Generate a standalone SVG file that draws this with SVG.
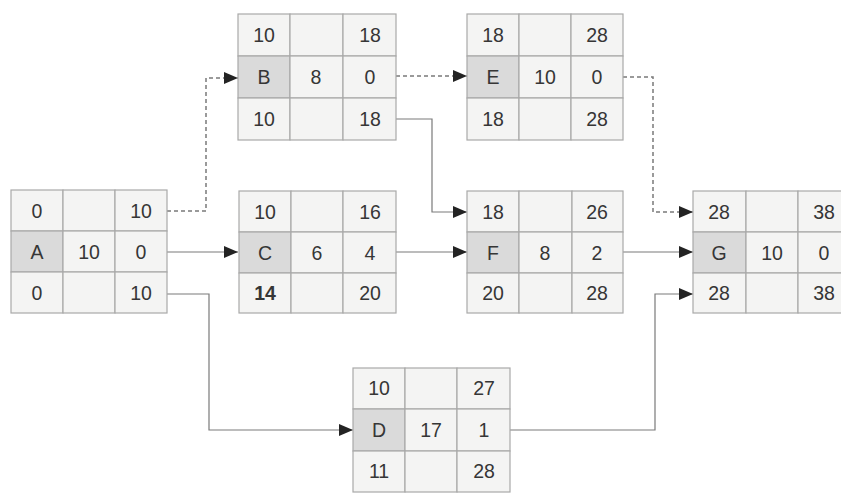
<svg xmlns="http://www.w3.org/2000/svg" width="841" height="500" viewBox="0 0 841 500">
  <style>
    .cell { fill: #f4f4f3; stroke: #a9a9a9; stroke-width: 1.2; }
    .key { fill: #dadada; stroke: #a9a9a9; stroke-width: 1.2; }
    .t { font-family: "Liberation Sans", Arial, sans-serif; font-size: 19.5px; fill: #363636; text-anchor: middle; }
    .b { font-weight: bold; }
    .solid { fill: none; stroke: #7a7a7a; stroke-width: 1.2; }
    .dash { fill: none; stroke: #7a7a7a; stroke-width: 1.5; stroke-dasharray: 4 3; }
  </style>
  <defs>
    <marker id="arrow" markerUnits="userSpaceOnUse" markerWidth="16" markerHeight="14" refX="14" refY="7" orient="auto">
      <path d="M0,1 L14,7 L0,13 z" fill="#232323"/>
    </marker>
  </defs>
  <rect width="841" height="500" fill="#ffffff"/>

  <!-- connectors between activities -->
  <g id="connectors">
    <path class="dash" d="M167,211 H206 V78 H238" marker-end="url(#arrow)"/>
    <path class="solid" d="M167,252 H238" marker-end="url(#arrow)"/>
    <path class="solid" d="M167,294 H209 V430 H353" marker-end="url(#arrow)"/>
    <path class="dash" d="M396,76 H467" marker-end="url(#arrow)"/>
    <path class="solid" d="M396,119 H432 V212 H467" marker-end="url(#arrow)"/>
    <path class="solid" d="M396,252 H467" marker-end="url(#arrow)"/>
    <path class="dash" d="M623,77 H653 V212 H693" marker-end="url(#arrow)"/>
    <path class="solid" d="M623,252 H693" marker-end="url(#arrow)"/>
    <path class="solid" d="M510,430 H655 V294 H693" marker-end="url(#arrow)"/>
  </g>

  <!-- activity A -->
  <g id="node-A">
    <rect class="cell" x="11" y="190" width="52" height="41"/>
    <rect class="cell" x="63" y="190" width="52" height="41"/>
    <rect class="cell" x="115" y="190" width="52" height="41"/>
    <rect class="key" x="11" y="231" width="52" height="41"/>
    <rect class="cell" x="63" y="231" width="52" height="41"/>
    <rect class="cell" x="115" y="231" width="52" height="41"/>
    <rect class="cell" x="11" y="272" width="52" height="41"/>
    <rect class="cell" x="63" y="272" width="52" height="41"/>
    <rect class="cell" x="115" y="272" width="52" height="41"/>
    <text class="t" x="37" y="218">0</text>
    <text class="t" x="141" y="218">10</text>
    <text class="t" x="37" y="259">A</text>
    <text class="t" x="89" y="259">10</text>
    <text class="t" x="141" y="259">0</text>
    <text class="t" x="37" y="300">0</text>
    <text class="t" x="141" y="300">10</text>
  </g>

  <!-- activity B -->
  <g id="node-B">
    <rect class="cell" x="238" y="14" width="52" height="42"/>
    <rect class="cell" x="290" y="14" width="53" height="42"/>
    <rect class="cell" x="343" y="14" width="53" height="42"/>
    <rect class="key" x="238" y="56" width="52" height="42"/>
    <rect class="cell" x="290" y="56" width="53" height="42"/>
    <rect class="cell" x="343" y="56" width="53" height="42"/>
    <rect class="cell" x="238" y="98" width="52" height="42"/>
    <rect class="cell" x="290" y="98" width="53" height="42"/>
    <rect class="cell" x="343" y="98" width="53" height="42"/>
    <text class="t" x="264" y="42">10</text>
    <text class="t" x="370" y="42">18</text>
    <text class="t" x="264" y="84">B</text>
    <text class="t" x="316" y="84">8</text>
    <text class="t" x="370" y="84">0</text>
    <text class="t" x="264" y="126">10</text>
    <text class="t" x="370" y="126">18</text>
  </g>

  <!-- activity E -->
  <g id="node-E">
    <rect class="cell" x="467" y="14" width="52" height="42"/>
    <rect class="cell" x="519" y="14" width="52" height="42"/>
    <rect class="cell" x="571" y="14" width="52" height="42"/>
    <rect class="key" x="467" y="56" width="52" height="42"/>
    <rect class="cell" x="519" y="56" width="52" height="42"/>
    <rect class="cell" x="571" y="56" width="52" height="42"/>
    <rect class="cell" x="467" y="98" width="52" height="42"/>
    <rect class="cell" x="519" y="98" width="52" height="42"/>
    <rect class="cell" x="571" y="98" width="52" height="42"/>
    <text class="t" x="493" y="42">18</text>
    <text class="t" x="597" y="42">28</text>
    <text class="t" x="493" y="84">E</text>
    <text class="t" x="545" y="84">10</text>
    <text class="t" x="597" y="84">0</text>
    <text class="t" x="493" y="126">18</text>
    <text class="t" x="597" y="126">28</text>
  </g>

  <!-- activity C -->
  <g id="node-C">
    <rect class="cell" x="239" y="191" width="52" height="41"/>
    <rect class="cell" x="291" y="191" width="52" height="41"/>
    <rect class="cell" x="343" y="191" width="53" height="41"/>
    <rect class="key" x="239" y="232" width="52" height="41"/>
    <rect class="cell" x="291" y="232" width="52" height="41"/>
    <rect class="cell" x="343" y="232" width="53" height="41"/>
    <rect class="cell" x="239" y="273" width="52" height="40"/>
    <rect class="cell" x="291" y="273" width="52" height="40"/>
    <rect class="cell" x="343" y="273" width="53" height="40"/>
    <text class="t" x="265" y="219">10</text>
    <text class="t" x="370" y="219">16</text>
    <text class="t" x="265" y="260">C</text>
    <text class="t" x="317" y="260">6</text>
    <text class="t" x="370" y="260">4</text>
    <text class="t b" x="265" y="300">14</text>
    <text class="t" x="370" y="300">20</text>
  </g>

  <!-- activity F -->
  <g id="node-F">
    <rect class="cell" x="467" y="191" width="52" height="41"/>
    <rect class="cell" x="519" y="191" width="53" height="41"/>
    <rect class="cell" x="572" y="191" width="51" height="41"/>
    <rect class="key" x="467" y="232" width="52" height="41"/>
    <rect class="cell" x="519" y="232" width="53" height="41"/>
    <rect class="cell" x="572" y="232" width="51" height="41"/>
    <rect class="cell" x="467" y="273" width="52" height="40"/>
    <rect class="cell" x="519" y="273" width="53" height="40"/>
    <rect class="cell" x="572" y="273" width="51" height="40"/>
    <text class="t" x="493" y="219">18</text>
    <text class="t" x="597" y="219">26</text>
    <text class="t" x="493" y="260">F</text>
    <text class="t" x="545" y="260">8</text>
    <text class="t" x="597" y="260">2</text>
    <text class="t" x="493" y="300">20</text>
    <text class="t" x="597" y="300">28</text>
  </g>

  <!-- activity G -->
  <g id="node-G">
    <rect class="cell" x="693" y="191" width="53" height="41"/>
    <rect class="cell" x="746" y="191" width="52" height="41"/>
    <rect class="cell" x="798" y="191" width="52" height="41"/>
    <rect class="key" x="693" y="232" width="53" height="41"/>
    <rect class="cell" x="746" y="232" width="52" height="41"/>
    <rect class="cell" x="798" y="232" width="52" height="41"/>
    <rect class="cell" x="693" y="273" width="53" height="40"/>
    <rect class="cell" x="746" y="273" width="52" height="40"/>
    <rect class="cell" x="798" y="273" width="52" height="40"/>
    <text class="t" x="719" y="219">28</text>
    <text class="t" x="824" y="219">38</text>
    <text class="t" x="719" y="260">G</text>
    <text class="t" x="772" y="260">10</text>
    <text class="t" x="824" y="260">0</text>
    <text class="t" x="719" y="300">28</text>
    <text class="t" x="824" y="300">38</text>
  </g>

  <!-- activity D -->
  <g id="node-D">
    <rect class="cell" x="353" y="368" width="52" height="41"/>
    <rect class="cell" x="405" y="368" width="52" height="41"/>
    <rect class="cell" x="457" y="368" width="53" height="41"/>
    <rect class="key" x="353" y="409" width="52" height="42"/>
    <rect class="cell" x="405" y="409" width="52" height="42"/>
    <rect class="cell" x="457" y="409" width="53" height="42"/>
    <rect class="cell" x="353" y="451" width="52" height="41"/>
    <rect class="cell" x="405" y="451" width="52" height="41"/>
    <rect class="cell" x="457" y="451" width="53" height="41"/>
    <text class="t" x="379" y="395">10</text>
    <text class="t" x="484" y="395">27</text>
    <text class="t" x="379" y="437">D</text>
    <text class="t" x="431" y="437">17</text>
    <text class="t" x="484" y="437">1</text>
    <text class="t" x="379" y="478">11</text>
    <text class="t" x="484" y="478">28</text>
  </g>
</svg>
